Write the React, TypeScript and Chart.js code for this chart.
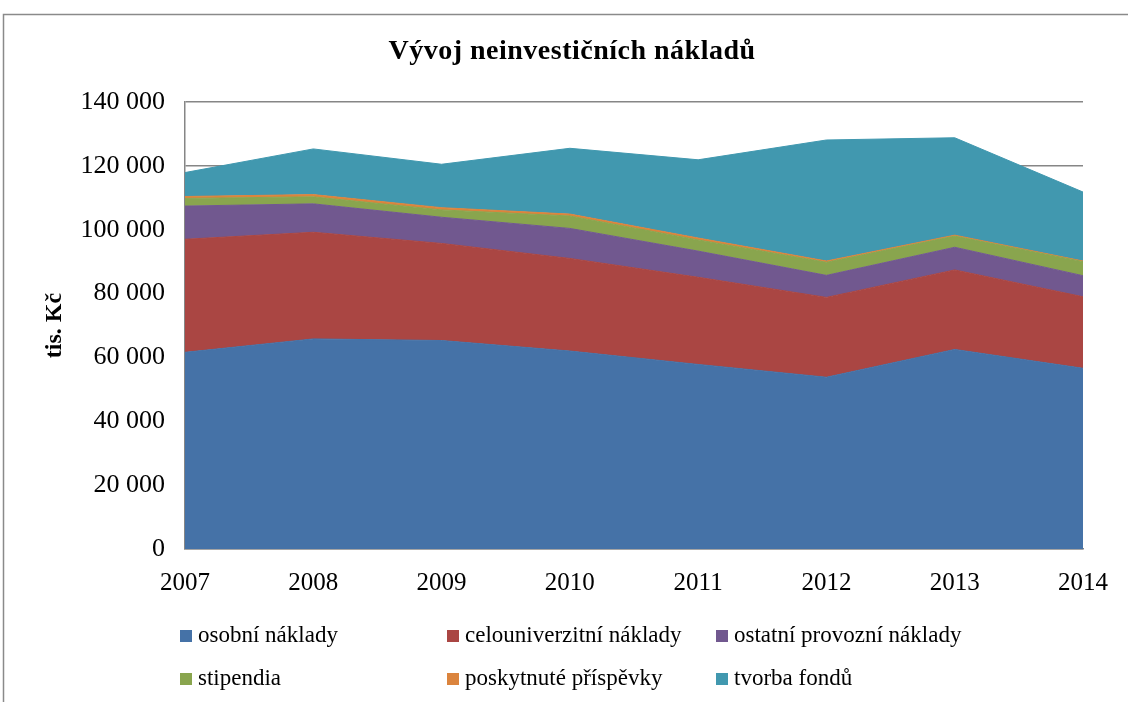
import React, { useEffect, useRef } from "react";
import { Chart, registerables } from "chart.js";

Chart.register(...registerables);

const years = ["2007", "2008", "2009", "2010", "2011", "2012", "2013", "2014"];
const osobniNaklady = [61600, 65800, 65300, 62000, 57800, 53800, 62500, 56600];
const celouniverzitniNaklady = [35400, 33400, 30400, 29000, 27300, 25000, 24900, 22400];
const ostatniProvozniNaklady = [10400, 8900, 8200, 9400, 8200, 6900, 7100, 6600];
const stipendia = [2400, 2200, 2300, 3900, 3500, 4100, 3500, 4400];
const poskytnutePrispevky = [600, 700, 700, 600, 600, 400, 300, 200];
const tvorbaFondu = [7500, 14300, 13600, 20600, 24500, 37900, 30500, 21600];

const seriesLabels = [
  "osobní náklady",
  "celouniverzitní náklady",
  "ostatní provozní náklady",
  "stipendia",
  "poskytnuté příspěvky",
  "tvorba fondů",
];
const seriesColors = ["#4572A7", "#AA4643", "#71588F", "#89A54E", "#DB843D", "#4198AF"];

const titleText = "Vývoj neinvestičních nákladů";
const yTitle = "tis. Kč";
const yMax = 140000;
const yStep = 20000;

const SERIF = "'Liberation Serif', 'Times New Roman', serif";

function fmt(v: number) {
  return String(v).replace(/\B(?=(\d{3})+(?!\d))/g, " ");
}

const framePlugin = {
  id: "frame",
  beforeDraw(chart: any) {
    const ctx = chart.ctx;
    ctx.save();
    ctx.fillStyle = "#ffffff";
    ctx.fillRect(0, 0, chart.width, chart.height);
    ctx.strokeStyle = "#8a8a8a";
    ctx.lineWidth = 1.5;
    ctx.beginPath();
    ctx.moveTo(3.5, chart.height + 5);
    ctx.lineTo(3.5, 14.5);
    ctx.lineTo(chart.width + 5, 14.5);
    ctx.stroke();
    // title
    ctx.fillStyle = "#000000";
    ctx.font = `bold 28px ${SERIF}`;
    ctx.textAlign = "center";
    ctx.textBaseline = "alphabetic";
    try {
      (ctx as any).letterSpacing = "0.5px";
    } catch (e) {}
    ctx.fillText(titleText, 572, 58.5);
    ctx.restore();
  },
};

const legendPlugin = {
  id: "gridLegend",
  afterDraw(chart: any) {
    const ctx = chart.ctx;
    const cols = [180, 447, 716];
    const rows = [636, 679];
    ctx.save();
    ctx.font = `23px ${SERIF}`;
    ctx.textBaseline = "middle";
    ctx.textAlign = "left";
    chart.data.datasets.forEach((ds: any, i: number) => {
      const x = cols[i % 3];
      const y = rows[Math.floor(i / 3)];
      ctx.fillStyle = ds.backgroundColor;
      ctx.fillRect(x, y - 6, 12, 12);
      ctx.fillStyle = "#000000";
      ctx.fillText(ds.label, x + 18, y);
    });
    ctx.restore();
  },
};

export default function App() {
  const ref = useRef<HTMLCanvasElement | null>(null);

  useEffect(() => {
    if (!ref.current) return;
    const seriesData = [
      osobniNaklady,
      celouniverzitniNaklady,
      ostatniProvozniNaklady,
      stipendia,
      poskytnutePrispevky,
      tvorbaFondu,
    ];
    const chart = new Chart(ref.current, {
      type: "line",
      data: {
        labels: years,
        datasets: seriesData.map((d, i) => ({
          label: seriesLabels[i],
          data: d,
          backgroundColor: seriesColors[i],
          borderColor: seriesColors[i],
          borderWidth: 1,
          pointRadius: 0,
          pointHoverRadius: 0,
          tension: 0,
          fill: i === 0 ? "origin" : "-1",
        })),
      },
      options: {
        animation: false,
        responsive: false,
        maintainAspectRatio: false,
        layout: { padding: { top: 102, left: 0, right: 45, bottom: 103 } },
        plugins: {
          legend: { display: false },
          tooltip: { enabled: false },
          title: { display: false },
        },
        scales: {
          x: {
            type: "category",
            offset: false,
            grid: { display: false, drawTicks: false },
            border: { display: true, color: "#868686", width: 1.5 },
            ticks: {
              color: "#000000",
              font: { family: SERIF, size: 25 },
              padding: 19,
              autoSkip: false,
              maxRotation: 0,
            },
            afterFit(scale: any) {
              scale.height = 50;
            },
          },
          y: {
            stacked: true,
            min: 0,
            max: yMax,
            grid: { color: "#868686", lineWidth: 1.5, drawTicks: false },
            border: { display: true, color: "#868686", width: 1.5 },
            ticks: {
              stepSize: yStep,
              color: "#000000",
              font: { family: SERIF, size: 26 },
              padding: 20,
              callback: (v: any) => fmt(Number(v)),
            },
            title: {
              display: true,
              text: yTitle,
              color: "#000000",
              font: { family: SERIF, size: 24, weight: "bold" },
              padding: { top: 40, bottom: 0 },
            },
            afterFit(scale: any) {
              scale.width = 185;
            },
          },
        },
      },
      plugins: [framePlugin, legendPlugin],
    });
    return () => chart.destroy();
  }, []);

  return (
    <div style={{ position: "fixed", left: 0, top: 0, width: 1128, height: 702 }}>
      <canvas ref={ref} width={1128} height={702} style={{ width: 1128, height: 702 }} />
    </div>
  );
}
